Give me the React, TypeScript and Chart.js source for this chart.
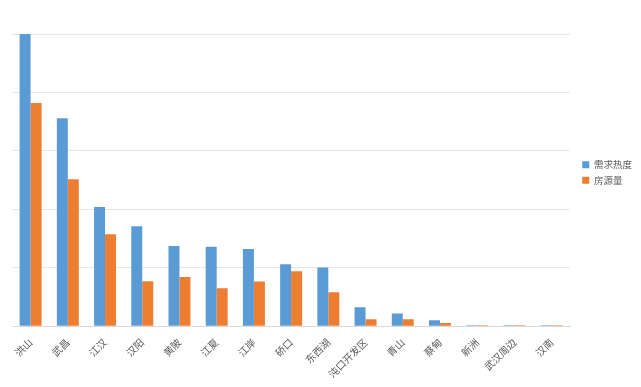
import React, { useEffect, useRef } from "react";
import { Chart, registerables } from "chart.js";

Chart.register(...registerables);

const categories = ["洪山", "武昌", "江汉", "汉阳", "黄陂", "江夏", "江岸", "硚口", "东西湖", "沌口开发区", "青山", "蔡甸", "新洲", "武汉周边", "汉南"];
const demandHeat = [100, 71.2, 40.8, 34.2, 27.4, 27.2, 26.4, 21.2, 20.1, 6.5, 4.3, 2.0, 0.3, 0.3, 0.3];
const houseSupply = [76.4, 50.3, 31.5, 15.4, 16.8, 13.0, 15.3, 18.8, 11.6, 2.4, 2.4, 1.1, 0.3, 0.3, 0.3];
const seriesNames = ["需求热度", "房源量"];

export default function App() {
  const ref = useRef<HTMLCanvasElement | null>(null);
  useEffect(() => {
    document.body.style.margin = "0";
    const font = "'Noto Sans CJK SC', 'Noto Sans', sans-serif";
    const chart = new Chart(ref.current as HTMLCanvasElement, {
      type: "bar",
      data: {
        labels: categories,
        datasets: [
          { label: seriesNames[0], data: demandHeat, backgroundColor: "#5b9bd5", borderWidth: 0 },
          { label: seriesNames[1], data: houseSupply, backgroundColor: "#ed7d31", borderWidth: 0 },
        ],
      },
      options: {
        animation: false,
        responsive: false,
        maintainAspectRatio: false,
        layout: { padding: { top: 34, left: 12, right: -1, bottom: 5 } },
        datasets: { bar: { categoryPercentage: 0.59, barPercentage: 1 } },
        plugins: {
          tooltip: { enabled: false },
          legend: {
            position: "right",
            align: "start",
            title: { display: true, text: " ", padding: { top: 108, bottom: 0 }, font: { size: 10 } },
            labels: {
              boxWidth: 7,
              boxHeight: 7,
              padding: 6,
              color: "#595959",
              font: { family: font, size: 9.5 },
            },
          },
        },
        scales: {
          x: {
            grid: { display: false },
            border: { color: "#d9d9d9" },
            ticks: {
              color: "#595959",
              font: { family: font, size: 10 },
              minRotation: 45,
              maxRotation: 45,
              padding: 2,
            },
          },
          y: {
            min: 0,
            max: 100,
            ticks: { display: false, stepSize: 20 },
            grid: { color: "#e6e6e6", drawTicks: false },
            border: { display: false },
          },
          gap: {
            type: "linear",
            position: "right",
            display: true,
            grid: { display: false, drawTicks: false },
            border: { display: false },
            ticks: { display: false },
            afterFit: (s: any) => {
              s.width = 6;
            },
          },
        },
      },
    });
    return () => chart.destroy();
  }, []);
  return (
    <div style={{ width: 641, height: 387, background: "#fff" }}>
      <canvas ref={ref} width={641} height={387} style={{ width: 641, height: 387 }} />
    </div>
  );
}
